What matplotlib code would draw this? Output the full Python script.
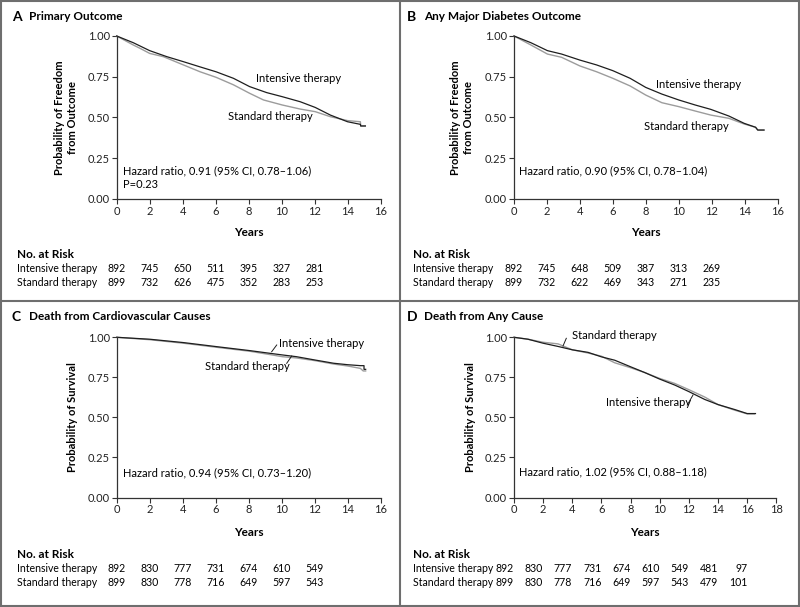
"""Kaplan-Meier style four panel figure"""

import matplotlib
matplotlib.use("Agg")
import matplotlib.pyplot as plt
from matplotlib.lines import Line2D
from matplotlib.transforms import blended_transform_factory

plt.rcParams["font.family"] = ["Lato", "DejaVu Sans"]

W, H = 800, 607

# panel A - primary outcome
a_int_t = [0, 1.0, 2.0, 3.04, 4.05, 5.06, 6.03, 7.08, 8.06, 9.1, 10.04, 11.13, 12.04, 12.96, 14.0, 14.78, 14.8, 15.08]
a_int_s = [1.0, 0.959, 0.91, 0.873, 0.842, 0.81, 0.78, 0.74, 0.689, 0.652, 0.627, 0.596, 0.561, 0.514, 0.473, 0.457, 0.447, 0.447]
a_std_t = [0, 1.0, 1.42, 2.0, 2.83, 4.05, 5.06, 6.03, 7.08, 8.06, 8.9, 10.04, 11.13, 12.04, 12.96, 14.0, 14.78, 14.8, 15.08]
a_std_s = [1.0, 0.945, 0.924, 0.893, 0.873, 0.822, 0.78, 0.746, 0.70, 0.648, 0.607, 0.576, 0.551, 0.535, 0.504, 0.48, 0.473, 0.447, 0.447]

# panel B - any major diabetes outcome
b_int_t = [0, 1.02, 2.03, 2.89, 4.0, 5.02, 6.0, 7.05, 8.0, 8.98, 10.0, 11.0, 11.95, 13.05, 13.98, 14.67, 14.8, 15.18]
b_int_s = [1.0, 0.959, 0.91, 0.889, 0.852, 0.822, 0.787, 0.74, 0.684, 0.643, 0.607, 0.576, 0.549, 0.508, 0.463, 0.439, 0.422, 0.422]
b_std_t = [0, 1.02, 2.03, 2.89, 4.0, 5.02, 6.0, 7.05, 8.0, 8.98, 10.0, 11.0, 11.95, 13.05, 13.98, 14.67, 14.8, 15.18]
b_std_s = [1.0, 0.945, 0.889, 0.869, 0.816, 0.78, 0.74, 0.693, 0.637, 0.59, 0.566, 0.539, 0.514, 0.494, 0.459, 0.439, 0.422, 0.422]

# panel C - death from cardiovascular causes
c_int_t = [0, 2.0, 4.05, 6.03, 8.06, 9.3, 10.04, 10.9, 12.04, 13.16, 14.0, 14.78, 15.0, 15.0, 15.1]
c_int_s = [1.0, 0.988, 0.967, 0.942, 0.917, 0.9, 0.89, 0.879, 0.858, 0.838, 0.829, 0.823, 0.823, 0.80, 0.80]
c_std_t = [0, 2.0, 4.05, 6.03, 8.06, 9.3, 10.04, 10.9, 12.04, 13.16, 14.0, 14.78, 14.95, 15.1]
c_std_s = [1.0, 0.985, 0.963, 0.938, 0.913, 0.892, 0.879, 0.871, 0.854, 0.833, 0.821, 0.806, 0.79, 0.79]

# panel D - death from any cause
d_int_t = [0, 0.96, 2.0, 3.02, 4.0, 5.08, 6.0, 6.91, 8.0, 8.97, 10.0, 11.03, 12.0, 13.09, 14.0, 15.15, 16.0, 16.57]
d_int_s = [1.0, 0.988, 0.963, 0.943, 0.922, 0.906, 0.878, 0.857, 0.816, 0.78, 0.739, 0.702, 0.661, 0.612, 0.58, 0.549, 0.524, 0.524]
d_std_t = [0, 0.96, 2.0, 3.02, 4.0, 5.08, 6.0, 6.91, 8.0, 8.97, 10.0, 11.03, 12.0, 13.09, 14.0, 15.15, 16.0, 16.5]
d_std_s = [1.0, 0.988, 0.969, 0.959, 0.922, 0.902, 0.882, 0.841, 0.81, 0.78, 0.743, 0.712, 0.673, 0.627, 0.58, 0.545, 0.522, 0.522]

# numbers at risk
risk_a_int = [892, 745, 650, 511, 395, 327, 281]
risk_a_std = [899, 732, 626, 475, 352, 283, 253]
risk_b_int = [892, 745, 648, 509, 387, 313, 269]
risk_b_std = [899, 732, 622, 469, 343, 271, 235]
risk_c_int = [892, 830, 777, 731, 674, 610, 549]
risk_c_std = [899, 830, 778, 716, 649, 597, 543]
risk_d_int = [892, 830, 777, 731, 674, 610, 549, 481, 97]
risk_d_std = [899, 830, 778, 716, 649, 597, 543, 479, 101]

INT_COLOR = "#1e1e1e"
STD_COLOR = "#9c9c9c"
AX_COLOR = "#333333"
TABLE_FS = 7.6


def fx(px):
    return px / W


def fy(py):
    return 1 - py / H


def draw_panel(fig, box, xmax, curves, letter, title, ylabel, ylabel_x,
               hr_text, labels, risk, risk_ha, oy):
    """
    Draws one panel: axes, curves, labels and the risk table

    Args:
        box: (left, top, right, bottom) in pixels
        oy: vertical pixel offset of the panel (0 or 300)
    """
    left, top, right, bottom = box
    ax = fig.add_axes([fx(left), fy(bottom), fx(right - left), (bottom - top) / H])
    (it, isv), (st, ssv) = curves
    ax.plot(st, ssv, color=STD_COLOR, lw=1.0, clip_on=False)
    ax.plot(it, isv, color=INT_COLOR, lw=0.9, clip_on=False)
    ax.set_xlim(0, xmax)
    ax.set_ylim(0, 1.0)
    ax.set_xticks(range(0, xmax + 1, 2))
    ax.set_yticks([0, 0.25, 0.5, 0.75, 1.0])
    ax.set_yticklabels(["0.00", "0.25", "0.50", "0.75", "1.00"])
    for side in ["top", "right"]:
        ax.spines[side].set_visible(False)
    for side in ["left", "bottom"]:
        ax.spines[side].set_color(AX_COLOR)
        ax.spines[side].set_linewidth(0.9)
    ax.tick_params(length=3.5, width=0.8, color=AX_COLOR, labelsize=8,
                   labelcolor="#222222", pad=1.5)
    ax.patch.set_visible(False)

    # title
    lx = 12 if letter in "AC" else 407
    fig.text(fx(lx), fy(oy + 17), letter, fontsize=10, fontweight="bold",
             va="center", ha="left")
    fig.text(fx(lx + 17), fy(oy + 17), title, fontsize=8.5, fontweight="bold",
             va="center", ha="left")

    fig.text(fx(ylabel_x), fy((top + bottom) / 2), ylabel, rotation=90,
             fontsize=8, fontweight="bold", ha="center", va="center",
             linespacing=1.15)
    fig.text(fx((left + right) / 2), fy(oy + 232), "Years", fontsize=8.5,
             fontweight="bold", ha="center", va="center")

    ax.text(hr_text[0], hr_text[1], hr_text[2], fontsize=8, va="top",
            ha="left", linespacing=1.25)

    for txt, x, y, lead in labels:
        ax.text(x, y, txt, fontsize=8, ha="left", va="center")
        if lead is not None:
            fig.add_artist(Line2D([fx(lead[0]), fx(lead[2])],
                                  [fy(lead[1]), fy(lead[3])],
                                  color=INT_COLOR, lw=0.7))

    # risk table
    tx = 17 if letter in "AC" else 413
    fig.text(fx(tx), fy(oy + 255), "No. at Risk", fontsize=8.5,
             fontweight="bold", va="center", ha="left")
    trans = blended_transform_factory(ax.transData, fig.transFigure)
    rows = [("Intensive therapy", risk[0], oy + 269),
            ("Standard therapy", risk[1], oy + 283)]
    for name, vals, ry in rows:
        fig.text(fx(tx), fy(ry), name, fontsize=TABLE_FS, va="center", ha="left")
        for i, v in enumerate(vals):
            ax.text(2 * i, fy(ry), str(v), transform=trans, fontsize=TABLE_FS,
                    va="center", ha=risk_ha, clip_on=False)
    return ax


fig = plt.figure(figsize=(W / 100, H / 100), dpi=100)

draw_panel(fig, (116.7, 36, 380.5, 198.7), 16,
           [(a_int_t, a_int_s), (a_std_t, a_std_s)],
           "A", "Primary Outcome", "Probability of Freedom\nfrom Outcome", 66,
           (0.37, 0.205, "Hazard ratio, 0.91 (95% CI, 0.78\u20131.06)\nP=0.23"),
           [("Intensive therapy", 8.46, 0.738, None),
            ("Standard therapy", 6.75, 0.506, None)],
           (risk_a_int, risk_a_std), "center", 0)

draw_panel(fig, (514, 36, 777.5, 198.7), 16,
           [(b_int_t, b_int_s), (b_std_t, b_std_s)],
           "B", "Any Major Diabetes Outcome", "Probability of Freedom\nfrom Outcome", 462,
           (0.3, 0.205, "Hazard ratio, 0.90 (95% CI, 0.78\u20131.04)"),
           [("Intensive therapy", 8.64, 0.70, None),
            ("Standard therapy", 7.9, 0.445, None)],
           (risk_b_int, risk_b_std), "center", 0)

draw_panel(fig, (116.7, 337.3, 380.5, 497.5), 16,
           [(c_int_t, c_int_s), (c_std_t, c_std_s)],
           "C", "Death from Cardiovascular Causes", "Probability of Survival", 72,
           (0.37, 0.19, "Hazard ratio, 0.94 (95% CI, 0.73\u20131.20)"),
           [("Intensive therapy", 9.85, 0.963, (276.7, 345, 271.7, 351.7)),
            ("Standard therapy", 5.35, 0.82, (286.7, 363.3, 291.7, 356))],
           (risk_c_int, risk_c_std), "center", 300)

draw_panel(fig, (514, 337.3, 776.3, 497.5), 18,
           [(d_int_t, d_int_s), (d_std_t, d_std_s)],
           "D", "Death from Any Cause", "Probability of Survival", 470,
           (0.35, 0.195, "Hazard ratio, 1.02 (95% CI, 0.88\u20131.18)"),
           [("Standard therapy", 3.95, 1.01, (566.3, 338.3, 563, 346)),
            ("Intensive therapy", 6.3, 0.595, (687.3, 405, 693, 395))],
           (risk_d_int, risk_d_std), "right", 300)

# frame and dividers
frame = "#6e6e6e"
for xs, ys in [([1, 799], [1, 1]), ([1, 799], [606, 606]),
               ([1, 1], [1, 606]), ([799, 799], [1, 606]),
               ([400, 400], [1, 606]), ([1, 799], [300.5, 300.5])]:
    fig.add_artist(Line2D([fx(x) for x in xs], [fy(y) for y in ys],
                          color=frame, lw=1.5))

fig.savefig("out.png", dpi=100)
